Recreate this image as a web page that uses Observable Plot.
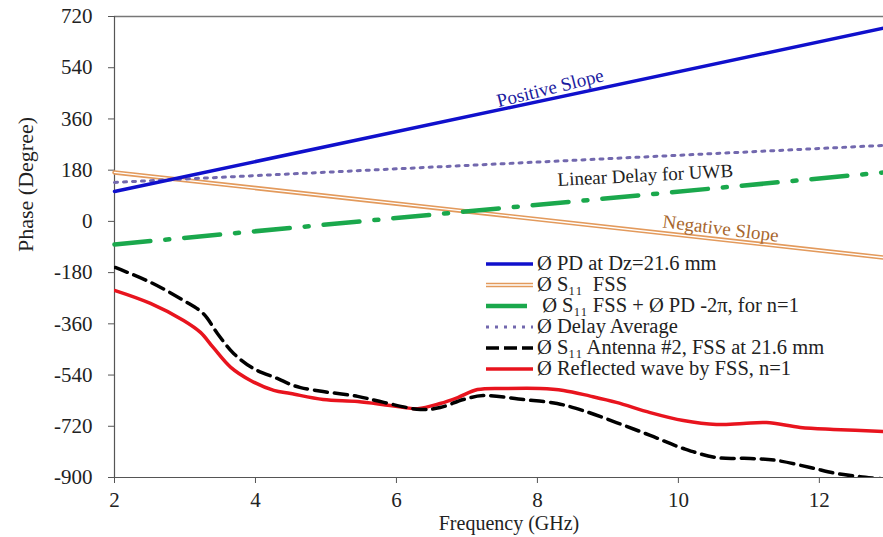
<!DOCTYPE html>
<html>
<head>
<meta charset="utf-8">
<script src="https://cdn.jsdelivr.net/npm/d3@7"></script>
<script src="https://cdn.jsdelivr.net/npm/@observablehq/plot@0.6"></script>
<style>
  html, body { margin: 0; padding: 0; background: #fff; }
  #wrap { position: relative; width: 883px; height: 537px; font-family: "Liberation Serif", "Times New Roman", "DejaVu Serif", serif; }
  #legend { position: absolute; left: 485px; top: 253px; font-size: 20.5px; color: #222; line-height: 21px; }
  #legend .row { display: flex; align-items: center; height: 21px; white-space: pre; }
  #legend svg { flex: none; margin-right: 3px; }
</style>
</head>
<body>
<div id="wrap"></div>
<script>
// ---------- data ----------
const xEnds = [2, 12.91];                 // GHz, straight-line endpoints (left edge, right edge)
const pdY = [105, 679];                   // Ø PD at Dz=21.6 mm
const fssY = [172, -127];                 // Ø S11 FSS
const sumY = [-81, 172];                  // Ø S11 FSS + Ø PD - 2π, n=1
const delayY = [137, 267];                // Ø Delay Average

const antF = [2.01, 2.51, 2.98, 3.26, 3.46, 3.69, 3.97, 4.31, 4.50, 4.64, 4.96, 5.45, 5.82, 6.34, 6.62, 6.95, 7.23, 7.80, 8.28, 8.65, 9.12, 9.60, 10.07, 10.54, 11.02, 11.39, 11.87, 12.24, 12.58, 12.91];
const antY = [-162, -214, -278, -324, -394, -464, -517, -552, -573, -584, -598, -615, -636, -661, -654, -626, -612, -626, -640, -665, -707, -752, -798, -830, -833, -840, -865, -886, -897, -905];

const refF = [2.01, 2.51, 2.98, 3.22, 3.40, 3.65, 3.93, 4.26, 4.50, 4.96, 5.45, 5.91, 6.30, 6.62, 6.87, 7.15, 7.57, 8.04, 8.37, 8.75, 9.12, 9.60, 10.07, 10.54, 10.92, 11.25, 11.73, 12.20, 12.91];
const refY = [-243, -288, -348, -390, -443, -513, -559, -594, -605, -626, -633, -647, -658, -640, -619, -591, -587, -587, -594, -614, -636, -672, -700, -714, -710, -707, -724, -731, -738];

const xTicks = [2, 4, 6, 8, 10, 12];
const yTicks = [-900, -720, -540, -360, -180, 0, 180, 360, 540, 720];

const noteText = ["Positive Slope", "Linear Delay for UWB", "Negative Slope"];
const noteF = [8.18, 9.53, 10.6];
const noteY = [468, 162, -25];
const noteRot = [-14, -3, 7];
const noteColor = ["#1c1ca0", "#222222", "#a8672e"];

const legendLabels = [
  "Ø PD at Dz=21.6 mm",
  "Ø S₁₁  FSS",
  " Ø S₁₁ FSS + Ø PD -2π, for n=1",
  "Ø Delay Average",
  "Ø S₁₁ Antenna #2, FSS at 21.6 mm",
  "Ø Reflected wave by FSS, n=1"
];

// ---------- styles ----------
const SERIF = "'Liberation Serif', 'Times New Roman', 'DejaVu Serif', serif";
const BLUE = "#1010cc", ORANGE = "#e39a5c", GREEN = "#1aa84c", PURPLE = "#7268ae", BLACK = "#000", RED = "#e8141e";

const pts = (xs, ys) => xs.map((x, i) => ({x, y: ys[i]}));
const notes = noteText.map((t, i) => ({t, x: noteF[i], y: noteY[i], r: noteRot[i], c: noteColor[i]}));

const chart = Plot.plot({
  width: 883,
  height: 537,
  marginLeft: 114,
  marginRight: 0,
  marginTop: 16,
  marginBottom: 60,
  style: {fontFamily: SERIF, fontSize: "21px", color: "#222", background: "#fff"},
  x: {domain: [2, 12.91], label: null},
  y: {domain: [-900, 720], label: null},
  marks: [
    Plot.ruleY([720], {stroke: "#777", strokeWidth: 1.5}),
    Plot.ruleY([-900], {stroke: "#555", strokeWidth: 1.2}),
    Plot.ruleX([2], {stroke: "#555", strokeWidth: 1.2}),
    Plot.axisX({ticks: xTicks, tickSize: 6, tickPadding: 9, stroke: "#555", tickFormat: d => d, label: null, fontSize: 21}),
    Plot.axisY({ticks: yTicks, tickSize: 6, tickPadding: 16, stroke: "#555", tickFormat: d => d, label: null, fontSize: 21}),
    // straight lines
    Plot.line(pts(xEnds, fssY), {x: "x", y: "y", stroke: ORANGE, strokeWidth: 4.5}),
    Plot.line(pts(xEnds, fssY), {x: "x", y: "y", stroke: "#fff", strokeWidth: 1.3}),
    Plot.line(pts(xEnds, delayY), {x: "x", y: "y", stroke: PURPLE, strokeWidth: 3, strokeDasharray: "3,6"}),
    Plot.line(pts(xEnds, sumY), {x: "x", y: "y", stroke: GREEN, strokeWidth: 4.5, strokeDasharray: "36,15,4,15"}),
    Plot.line(pts(xEnds, pdY), {x: "x", y: "y", stroke: BLUE, strokeWidth: 3.5}),
    // curves
    Plot.line(pts(refF, refY), {x: "x", y: "y", stroke: RED, strokeWidth: 3.5, curve: "catmull-rom", clip: true}),
    Plot.line(pts(antF, antY), {x: "x", y: "y", stroke: BLACK, strokeWidth: 3.5, strokeDasharray: "13,7", curve: "catmull-rom", clip: true}),
    // annotations
    Plot.text(notes, {x: "x", y: "y", text: "t", rotate: "r", fill: "c", fontSize: 19}),
    // axis titles
    Plot.text(["Frequency (GHz)"], {frameAnchor: "bottom", dx: 10, dy: 52, fontSize: 20, fill: "#222"}),
    Plot.text(["Phase (Degree)"], {frameAnchor: "left", dx: -89, dy: 5, rotate: -90, fontSize: 22, fill: "#222"})
  ]
});

const wrap = document.getElementById("wrap");
wrap.appendChild(chart);

// ---------- legend ----------
const swatches = [
  {stroke: BLUE, w: 3.5, dash: null, len: 48},
  {stroke: ORANGE, w: 4.5, dash: null, len: 48, inner: true},
  {stroke: GREEN, w: 4.5, dash: null, len: 42},
  {stroke: PURPLE, w: 3, dash: "3,6", len: 48},
  {stroke: BLACK, w: 3.5, dash: "13,5", len: 48},
  {stroke: RED, w: 3.5, dash: null, len: 48}
];
const legend = document.createElement("div");
legend.id = "legend";
legendLabels.forEach((lab, i) => {
  const s = swatches[i];
  const row = document.createElement("div");
  row.className = "row";
  const ns = "http://www.w3.org/2000/svg";
  const svg = document.createElementNS(ns, "svg");
  svg.setAttribute("width", 49);
  svg.setAttribute("height", 21);
  const mk = (stroke, w, dash) => {
    const l = document.createElementNS(ns, "line");
    l.setAttribute("x1", 1); l.setAttribute("x2", s.len);
    l.setAttribute("y1", 11); l.setAttribute("y2", 11);
    l.setAttribute("stroke", stroke); l.setAttribute("stroke-width", w);
    if (dash) l.setAttribute("stroke-dasharray", dash);
    svg.appendChild(l);
  };
  mk(s.stroke, s.w, s.dash);
  if (s.inner) mk("#fff", 1.3, null);
  row.appendChild(svg);
  const span = document.createElement("span");
  span.textContent = lab;
  row.appendChild(span);
  legend.appendChild(row);
});
wrap.appendChild(legend);
</script>
</body>
</html>
